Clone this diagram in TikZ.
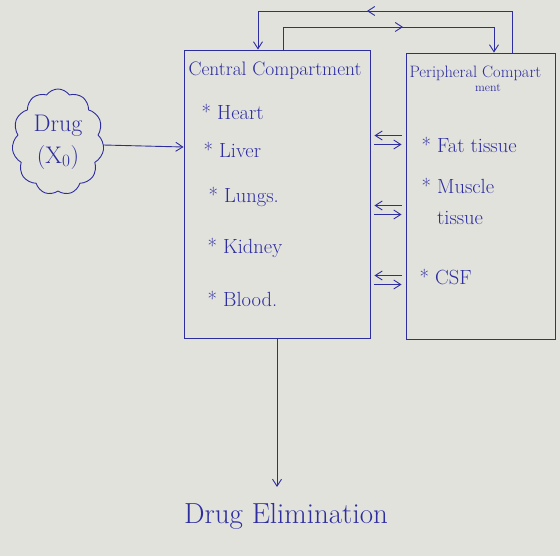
\documentclass[tikz,border=0pt]{standalone}
\usetikzlibrary{arrows.meta,shapes.symbols}
\definecolor{paper}{RGB}{226,226,221}
\definecolor{ink}{RGB}{45,45,160}
\begin{document}
\begin{tikzpicture}[x=1pt,y=-1pt,
  inkline/.style={draw=ink,line width=0.9pt},
  arr/.style={inkline,-{Straight Barb[length=7pt,width=9pt]}},
  box/.style={inkline,rectangle,inner sep=0pt},
  item/.style={text=ink,anchor=west,font=\fontsize{20.5}{31}\selectfont},
  title/.style={text=ink,font=\fontsize{19.5}{21}\selectfont}]
\fill[paper] (0,0) rectangle (560,556);
\useasboundingbox (0,0) rectangle (560,556);
% boxes
\node[box,minimum width=186pt,minimum height=288pt] (central) at (277,194) {};
\node[box,minimum width=149pt,minimum height=286pt] (periph) at (480.5,196) {};
% titles
\node[title,anchor=west] (ctitle) at (185,71) {Central Compartment};
\node[title,anchor=west,font=\fontsize{16.5}{18}\selectfont] (ptitle) at (406,73) {Peripheral Compart};
\node[title,anchor=center,font=\fontsize{12}{13}\selectfont] (ptitle2) at (488,88) {ment};
% central items
\node[item] (heart) at (198,112) {* Heart};
\node[item] (liver) at (200,150) {* Liver};
\node[item] (lungs) at (205,197) {* Lungs.};
\node[item] (kidney) at (204,248) {* Kidney};
\node[item] (blood) at (204,299) {* Blood.};
% peripheral items
\node[item] (fat) at (418,145) {* Fat tissue};
\node[item,align=left] (muscle) at (418,201) {* Muscle\\\hphantom{* }tissue};
\node[item] (csf) at (416,277) {* CSF};
% drug cloud
\node[cloud,draw=ink,line width=0.9pt,cloud puffs=11,cloud puff arc=110,aspect=0.9,
      minimum width=92pt,minimum height=106pt,inner sep=0pt,align=center,text=ink,
      font=\fontsize{24}{32}\selectfont] (drug) at (58,142) {Drug\\(X$_0$)};
\draw[arr] (drug.east |- 0,145) -- (central.west |- 0,147);
% exchange arrows between compartments
\foreach \y/\n in {140/a,210/b,280/c}{
  \coordinate (l\n) at (central.east |- 0,\y);
  \coordinate (r\n) at (periph.west |- 0,\y);
  \draw[arr] ([xshift=-4pt,yshift=4.5pt]r\n) -- ([xshift=4pt,yshift=4.5pt]l\n);
  \draw[arr] ([xshift=4pt,yshift=-4.5pt]l\n) -- ([xshift=-4pt,yshift=-4.5pt]r\n);
}
% top loop connectors
\coordinate (o1) at (512,11);
\coordinate (o2) at (258,11);
\coordinate (om) at (367,11);
\coordinate (i1) at (283,27);
\coordinate (i2) at (494,27);
\coordinate (im) at (403,27);
\draw[inkline] (periph.north -| o1) -- (o1) -- (o2);
\draw[arr] (o2) -- (central.north -| o2);
\draw[arr] (o1) -- (om);
\draw[inkline] (central.north -| i1) -- (i1) -- (i2);
\draw[arr] (i2) -- (periph.north -| i2);
\draw[arr] (i1) -- (im);
% elimination
\node[text=ink,font=\fontsize{29}{32}\selectfont] (elim) at (286,516) {Drug Elimination};
\coordinate (elimtop) at (277,487);
\draw[arr] (central.south -| elimtop) -- (elimtop);
\end{tikzpicture}
\end{document}
